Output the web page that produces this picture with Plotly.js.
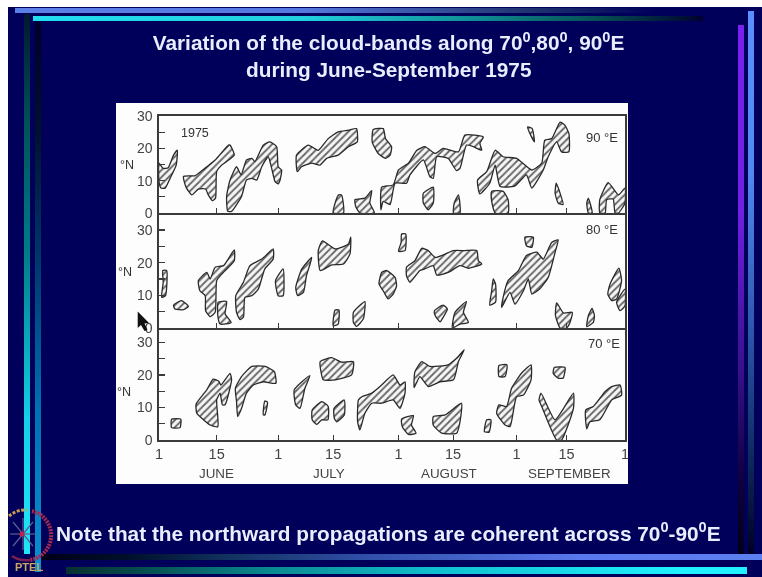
<!DOCTYPE html>
<html><head><meta charset="utf-8">
<script src="https://cdn.plot.ly/plotly-3.0.1.min.js"></script>
<style>
html,body{margin:0;padding:0;width:762px;height:577px;overflow:hidden;background:#fff}
#stage{position:absolute;left:0;top:0;width:762px;height:577px;overflow:hidden;filter:blur(0.55px)}
#slide{position:absolute;left:8px;top:7px;right:0;bottom:0;background:#00005a}
.bar{position:absolute}
#chart{position:absolute;left:0;top:0;width:762px;height:577px}
svg.deco{position:absolute;left:0;top:0;pointer-events:none}
</style></head><body>
<div id="stage">
<div id="slide"></div>
<div class="bar" style="left:15px;top:8px;width:640px;height:5px;background:linear-gradient(90deg,#5c80e8 0%,#5578e0 45%,#20356f 80%,#00005a 100%)"></div>
<div class="bar" style="left:33px;top:16px;width:670px;height:5px;background:linear-gradient(90deg,#22dcf0 0%,#22d0e0 40%,#109098 65%,#044c50 85%,#000030 100%)"></div>
<div class="bar" style="left:24px;top:14px;width:6px;height:540px;background:linear-gradient(180deg,#001830 0%,#00505a 20%,#007f8a 45%,#14d0e8 75%,#20e4f8 100%)"></div>
<div class="bar" style="left:35px;top:22px;width:6px;height:550px;background:linear-gradient(180deg,#000028 0%,#001030 20%,#003a70 45%,#0070b0 70%,#0a90d0 100%)"></div>
<div class="bar" style="left:738px;top:25px;width:6px;height:530px;background:linear-gradient(180deg,#7a20f0 0%,#7020e0 35%,#38108c 65%,#100040 85%,#000018 100%)"></div>
<div class="bar" style="left:748px;top:11px;width:6px;height:544px;background:linear-gradient(180deg,#5a90ff 0%,#5088f0 30%,#2a55a8 60%,#0c2a60 82%,#000020 100%)"></div>
<div class="bar" style="left:42px;top:554px;width:720px;height:6px;background:linear-gradient(90deg,#000018 0%,#00102a 12%,#10305c 25%,#3050a8 45%,#5a78f0 75%,#5c80f0 100%)"></div>
<div class="bar" style="left:66px;top:567px;width:681px;height:7px;background:linear-gradient(90deg,#083030 0%,#064a4a 10%,#0a8a90 30%,#10c0d0 55%,#20f0ff 90%)"></div>
<div id="chart"></div>
<svg class="deco" width="762" height="577">
<g fill="none">
<path d="M9 516 A25 25 0 0 1 27 510" stroke="#c89a50" stroke-width="3" stroke-dasharray="3 1.5"/>
<path d="M32 511 A25 25 0 0 1 30 560" stroke="#a82a50" stroke-width="4" stroke-dasharray="2 1"/>
<path d="M30 560 A25 25 0 0 1 12 556" stroke="#7a2050" stroke-width="2.5"/>
<g stroke="#5a6090" stroke-width="1.2"><path d="M10 534 H36"/><path d="M13 522 L33 546"/><path d="M33 522 L13 546"/><path d="M23 518 V550"/></g>
<circle cx="22" cy="534" r="2.5" fill="#c02050"/>
</g>
<path d="M137.7 311.5 L149 323 L144.5 323.5 L147.5 330 L144.5 331 L141 325 L137.7 328 Z" fill="#111"/>
</svg>
</div>
<script>
const band90_days=[
[0,1.1,2.4,3.8,4.8,4.5,2.9,1.6,.5,0],
[6.4,7.9,9.4,12,14.7,18.2,18.6,19.7,16.4,15.1,14.8,14,12.9,12.2,10.3,8.6,7.2,6.6],
[17.7,18.6,20.3,21.5,22.9,24.3,25.1,27.3,29,30.8,31.2,32.1,31.7,31.2,30.4,29.5,28.6,26.9,25.6,24.3,22.9,21.6,19,18],
[36,39.1,41.7,44.3,46.9,49.6,51.7,51.9,49.6,46.9,43.9,42.1,40,37.3,36.2],
[56.1,58.7,59.3,60.9,60.5,59.3,57.4,55.8],
[47,47.8,48.3,45.6,46.1],
[51.3,53.9,55.7,55.2,56.4,52.6,51.5],
[58.3,61.3,62.7,65.3,67.5,69.6,72.3,74.4,78.4,80.1,84.9,84,84.5,82.3,80.5,78.8,77.9,75.7,72.7,71.8,70.9,69.2,65.7,64.8,61.8,60.5,58.7,58.1],
[69.2,71.8,71.8,70.5,69.2],
[78.4,78.8,77.1,77.3],
[83.4,85.8,88,90.1,93.6,97.6,100.2,101,102.8,105,106.3,107.3,107.3,105.4,104.1,101.9,100.6,97.6,96.2,93.2,89.3,88,86.6,84],
[87.1,90.1,91.4,91.4,88,87.1],
[104,105.8,104.5,103.7],
[96.5,97.7,98.3,97.1],
[112.4,113.4,112.4,112],
[115.4,117.6,120.3,122,122,120.3,119.4,118.9,117.2,116.8,115.4]];
const band90_lats=[
[15.4,13.8,14,17.9,19.4,14.8,10.7,7.7,7.7,9.7],
[11.3,11.5,11.5,13.8,16.4,21,21,17.9,14.8,12.8,4.6,3.8,5.6,7.4,7.4,5.6,7.7,9.7],
[5.1,10.2,14.3,11.8,16.4,16.9,15.9,21,22,20.5,14.3,13.3,10.2,9,9.7,13.8,17.4,14.3,10.2,10.7,10.2,5.1,.5,.5],
[17.9,21,19.4,23,25.1,25.6,26.1,22,20.5,17.9,16.9,14.8,15.4,14.3,12.8],
[25.8,26.1,23,20.5,17.9,16.9,18.4,22],
[5.6,5.6,0,0,3],
[4.1,4.6,6.9,3.1,0,0,2],
[8,8.7,13.3,15.4,19.4,20.5,18.4,20,18.9,24.1,23.5,21.5,19.4,20.5,21,13.8,13.1,16.9,17.4,10.7,11.3,16.4,11.8,9.2,9.2,2.6,3.6,1],
[6.1,8,3.1,1,3.1],
[5.6,0,0,3.1],
[10.2,12.8,19.4,17.4,16.9,13.3,15.4,22.5,23,28.1,27.1,24.6,18.9,18.9,22,17.4,13.3,7.7,11.8,8.4,8.2,14.8,9.2,5.9],
[6.7,6.7,4.1,0,0,3.6],
[9.2,2.6,3.1,6.1],
[26.6,26.1,22,24.6],
[4.6,0,0,3.1],
[4.1,9.4,5.6,7.7,3.1,0,0,4.3,4.1,0,0]];
const band80_days=[
[1,2,1.7,.7,1.1],
[3.8,5.9,7.7,6.4,4.2],
[10.3,12.5,13.4,14.7,16.9,19.7,19.7,16.4,15.1,14.7,13.4,12.2,12.1,10.7],
[15.5,17.7,17.3,18.9,16,15.4],
[20.1,22.1,23.8,26.9,29.9,29.9,27.7,26,24.3,22.5,22.1,21.2,20.3],
[32.5,32.5,31.2,30.5],
[40,38.6,37.8,36.3,35.8,37.4],
[42.8,46.1,49.6,50.2,50,48.3,45.2,42.2,41.7],
[46.1,47.1,46.9,45.6],
[50.9,53.9,53.5,51.7,50.9],
[63.5,64.6,64.4,62.7,63.4],
[58.3,59.6,61.8,62.2,61.3,60,58.7,57.6],
[64.8,67,68.8,70.5,72.3,74.9,77,80.1,83.2,83.6,84.5,81,78.8,75.7,72.7,71.8,69.6,68.3,65.7,64.8],
[72.1,74.4,75.5,74.4,73.6,72.3],
[77.5,80.5,79.7,81,78.8,76.8],
[87.5,88.1,88.1,86.6,87.1],
[90.1,91.4,94.1,96.2,98.9,100.6,102.8,104.5,103.7,101.9,99.7,97.6,96.7,95.4,93.2,91.9,89.7],
[95.8,98,97.6,96.2],
[104.1,105.9,108.2,107.6,106.7,105,103.8],
[113.4,114,113.7,112,112.4],
[120.4,121.1,119.8,118.5,117.5,118.1],
[122,122,120.7,119.8]];
const band80_lats=[
[17.6,17.6,9.9,9.4,14],
[7,8.4,6.6,5.6,5.8],
[14.5,17,15,18.6,19.1,23.9,20.6,16.5,14.5,4.8,3.5,5.3,9.9,11.4],
[7.9,8.1,4.3,1.7,1.2,3.8],
[9.9,14,19.1,21.1,24.2,21.1,18.1,11.9,9.9,9.4,3.3,2.6,4.8],
[18.1,9.9,9.9,14.5],
[21.6,16,10.9,9.9,12.4,18.1],
[26.7,24.2,25.7,27.8,22.7,19.6,19.3,17.6,23.7],
[5.5,5.5,1.2,.7],
[4.8,8.1,2.8,.5,1.7],
[28.8,28.8,23.7,23.5,26.2],
[17,17.6,15.5,12.9,10.4,8.9,11.4,13.5],
[18.6,20.6,24.4,23.7,21.6,22.6,23.7,23.7,23.7,20.6,19.6,18.3,19.1,17,16.2,19.1,18.1,17.6,14,16],
[5.3,7,5.8,3.3,1.9,3.8],
[4.8,8.1,4.8,1.7,1.2,0],
[15,13.5,7.9,7,11.4],
[9.4,14.5,17.6,22.2,23.2,21.1,26.2,27,23.2,15.5,12,10.4,15,11.4,7.3,10.9,6.3],
[27.8,27.8,24.7,25.2],
[7.7,4.6,4.8,1.7,0,0,3.8],
[6,3.8,1.7,.4,3.8],
[18.3,14.5,8.9,8.4,10.4,13.5],
[11.9,6.8,5.3,7.9]];
const band70_days=[
[3.3,5.7,5.5,3.3],
[9.7,12.5,14.2,15.7,16.2,18.6,19,17.3,16.6,16,15.1,15.4,13.4,11.2,9.9],
[20,21.6,24.3,27.8,30.2,30.6,27.3,24.7,22.9,21.6,20.6,20.3],
[27.7,28.4,27.7,27.3],
[39.5,38.2,36.9,35.8,35.4],
[42.2,45.2,47.8,50.9,50.4,46.1,43,42.4],
[40.1,42.6,44.3,44.2,42.6,41.3,40.1],
[45.8,48.5,48.5,46.5,45.9],
[52.2,53.1,55.7,58.3,61.3,63.1,64.4,64.4,63.1,61.3,58.3,55.7,53.9,52.6,52],
[63.5,66.6,66.1,67.3,65.3,63.7],
[67,68.8,70.9,75.7,77.9,79.9,78.4,77.1,73.6,70.5,68.3,66.8],
[71.8,74.9,79.2,78.8,77.9,74,71.8],
[85.8,86.9,86.4,85.2],
[89,91,92.3,94.9,97.4,97.4,95.4,93.6,91.9,90.6,88.4],
[89,91.1,90.6,89],
[103.5,106.3,105.8,104.5,103.2],
[100,103.7,108.5,108.5,105.4,104.1,100.2,99.5],
[111.7,113.7,116.8,118.5,120.7,121.1,118.5,115.4,112.8,112]];
const band70_lats=[
[6.4,6.4,3.8,3.8],
[11,15.4,18.7,18,16.9,20.5,18.5,10.8,10.8,14.4,12.3,4.1,4.6,6.7,8.2],
[15.9,19.5,22.6,22.6,21,17.4,17.9,16.9,14.4,9.7,7.2,11.8],
[12,11.6,7.7,7.7],
[19.8,15.9,9.7,10.8,15.4],
[24.1,25.3,23.9,24.1,20,18.5,18.5,21],
[9.2,11.8,10.3,6.2,6.2,4.8,6.2],
[9.7,12.3,7.7,5.6,6.7],
[12.3,13.3,14.4,16.9,20,16.9,17.9,14.4,9.7,12.3,11.3,11.3,8.2,3.1,5.6],
[6.4,7.5,4.6,2.1,1.7,4.1],
[21,24.1,22.6,23.1,25.1,27.7,24.1,18.5,17.9,16.4,19.5,16.1],
[7.2,7.7,11.3,5.6,2.1,2.1,4.6],
[6.2,6.2,2.4,2.6],
[10.8,10.3,15.9,20.5,23.1,18.5,13.8,13.3,4.1,4.6,8.2],
[22.9,23.1,19.5,19.5],
[22.3,22.3,19,19,20.5],
[14.4,6.2,14.4,9.7,0,0,10.3,12.3],
[9.2,10.3,14.9,16.4,16.9,13.8,12.3,6.2,5.6,3.4]];
const dayTicks=[0,15.1,31.2,45.6,62.7,77,93.6,106.7,122];
const dayLabels=['1','15','1','15','1','15','1','15','1'];
const latTicks=[0,10,20,30];
const latMinorTicks=[5,15,25];
const latLabels=['0','10','20','30'];
const monthNames=['JUNE','JULY','AUGUST','SEPTEMBER'];
const monthPos=[15,44.5,76,107.5];

const W=762,H=577;
const sans='"Liberation Sans", Arial, sans-serif';
const ink='#3a3a3a';
const px=(x)=>x/W, py=(y)=>1-y/H;
const traces=[];
function addBands(days,lats,xa,ya){
  days.forEach((d,i)=>{
    traces.push({type:'scatter',mode:'lines',xaxis:xa,yaxis:ya,
      x:d.concat(d[0]),y:lats[i].concat(lats[i][0]),
      fill:'toself',fillcolor:'#fff',
      fillpattern:{shape:'/',size:5,solidity:0.36,fgcolor:'#666',bgcolor:'#f6f6f6'},
      line:{color:'#2a2a2a',width:1.3,shape:'spline',smoothing:0.5},
      hoverinfo:'skip',showlegend:false});
  });
}
addBands(band90_days,band90_lats,'x','y');
addBands(band80_days,band80_lats,'x2','y2');
addBands(band70_days,band70_lats,'x3','y3');

function xAxis(anchor,labels){
  return {domain:[px(159),px(625)],range:[0,122],anchor:anchor,showgrid:false,zeroline:false,
    showline:true,mirror:true,linecolor:ink,linewidth:1.6,ticks:'inside',ticklen:5,tickcolor:ink,tickwidth:1.2,
    tickmode:'array',tickvals:dayTicks,ticktext:dayLabels,showticklabels:labels,
    tickfont:{family:sans,size:14.5,color:'#444'}};
}
function yAxis(anchor,bottom,top,maxLat){
  return {domain:[py(bottom),py(top)],range:[0,maxLat],anchor:anchor,showgrid:false,zeroline:false,
    showline:true,mirror:true,linecolor:ink,linewidth:1.6,ticks:'inside',ticklen:6,tickcolor:ink,tickwidth:1.2,
    tickmode:'array',tickvals:latTicks,ticktext:latLabels,ticklabelstandoff:2,
    minor:{tickmode:'array',tickvals:latMinorTicks,ticks:'inside',ticklen:6,tickcolor:ink,tickwidth:1.2,showgrid:false},
    tickfont:{family:sans,size:14,color:'#444'}};
}
const note=(x,y,t,size,color,extra)=>Object.assign({xref:'paper',yref:'paper',x:px(x),y:py(y),text:t,showarrow:false,
  xanchor:'center',yanchor:'middle',font:{family:sans,size:size,color:color}},extra||{});
const heavy=(size,color)=>({font:{family:sans,size:size,color:color,weight:700}});
const annotations=[
  note(388.5,70,'during June-September 1975',20.8,'#e8eeff',heavy(20.8,'#e8eeff')),
  note(388.5,532,'Note that the northward propagations are coherent across 70<sup>0</sup>-90<sup>0</sup>E',20.8,'#e8eeff',heavy(20.8,'#e8eeff')),
  note(195,133,'1975',12.5,'#333'),
  note(602,137,'90 °E',13,'#333'),
  note(602,230,'80 °E',13,'#333'),
  note(604,343,'70 °E',13,'#333'),
  note(127,165,'°N',12.5,'#333'),
  note(125,272,'°N',12.5,'#333'),
  note(124,392,'°N',12.5,'#333'),
  note(29,567,'PTEL',11,'#d0a460',heavy(11,'#d0a460'))
];
monthNames.forEach((m,i)=>annotations.push({xref:'x3',yref:'paper',x:monthPos[i],y:py(473),text:m,showarrow:false,
  xanchor:'center',yanchor:'middle',font:{family:sans,size:13.4,color:'#444'}}));

const layout={width:W,height:H,margin:{l:0,r:0,t:0,b:0},paper_bgcolor:'rgba(0,0,0,0)',plot_bgcolor:'rgba(0,0,0,0)',
  showlegend:false,
  title:{text:'Variation of the cloud-bands along 70<sup>0</sup>,80<sup>0</sup>, 90<sup>0</sup>E',x:px(388.5),xanchor:'center',y:py(43),yanchor:'middle',
    font:{family:sans,size:20.8,color:'#e8eeff',weight:700}},
  xaxis:xAxis('y',false),xaxis2:xAxis('y2',false),xaxis3:xAxis('y3',true),
  yaxis:yAxis('x',213,116,30),yaxis2:yAxis('x2',328,215,34.6),yaxis3:yAxis('x3',440,330,33.8),
  shapes:[{type:'rect',xref:'paper',yref:'paper',x0:px(116),x1:px(628),y0:py(484),y1:py(103),fillcolor:'#fdfdfd',line:{width:0},layer:'below'}],
  annotations:annotations};
Plotly.newPlot('chart',traces,layout,{displayModeBar:false,staticPlot:true});
</script>
</body></html>
